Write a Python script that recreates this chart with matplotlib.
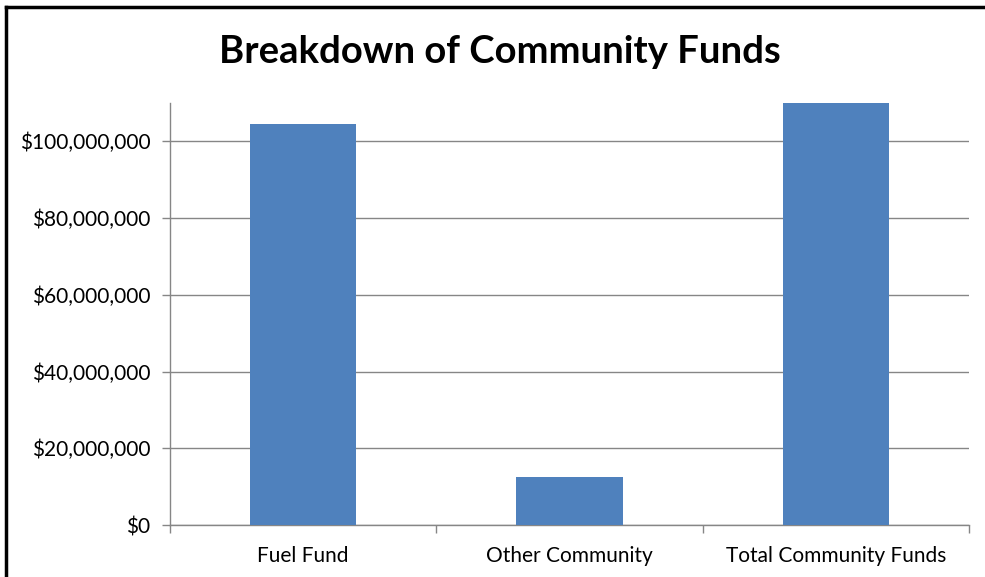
import matplotlib
matplotlib.use("Agg")
import matplotlib.pyplot as plt
from matplotlib.ticker import FuncFormatter, FixedLocator
from matplotlib.lines import Line2D

categories = ["Fuel Fund", "Other Community", "Total Community Funds"]
values = [104400000, 12600000, 110000000]
yticks = [0, 20000000, 40000000, 60000000, 80000000, 100000000]
title = "Breakdown of Community Funds"

plt.rcParams['font.family'] = ['Lato', 'DejaVu Sans']

fig = plt.figure(figsize=(9.85, 5.77), dpi=100)
ax = fig.add_axes([170/985, 52/577, 799/985, 422/577])

x = list(range(len(categories)))
ax.bar(x, values, width=0.40, color="#4F81BD", zorder=3)
ax.set_xlim(-0.5, len(categories) - 0.5)
ax.set_ylim(0, 110000000)
ax.set_yticks(yticks)
ax.yaxis.set_major_formatter(FuncFormatter(lambda v, p: "${:,.0f}".format(v)))
ax.set_xticks(x)
ax.set_xticklabels(categories)
ax.xaxis.set_minor_locator(FixedLocator([-0.5, 0.5, 1.5, 2.5]))
ax.tick_params(axis='x', which='major', length=0, pad=15, labelsize=15)
ax.tick_params(axis='x', which='minor', length=6, color="#868686", width=1)
ax.tick_params(axis='y', length=6, color="#868686", width=1, labelsize=15, pad=8)
ax.grid(axis='y', color="#868686", linewidth=1, zorder=0)
for s in ['top', 'right']:
    ax.spines[s].set_visible(False)
ax.spines['left'].set_color("#868686")
ax.spines['bottom'].set_color("#868686")
ax.spines['left'].set_linewidth(1)
ax.spines['bottom'].set_linewidth(1)

fig.text(500/985, 1 - 52/577, title, ha='center', va='center', fontsize=27.5, fontweight='bold')

# outer border (left and top)
fig.add_artist(Line2D([6/985, 6/985], [0, 1 - 7/577], transform=fig.transFigure, color='black', linewidth=2.5))
fig.add_artist(Line2D([6/985, 1], [1 - 7/577, 1 - 7/577], transform=fig.transFigure, color='black', linewidth=2.5))

fig.savefig("out.png", dpi=100)
